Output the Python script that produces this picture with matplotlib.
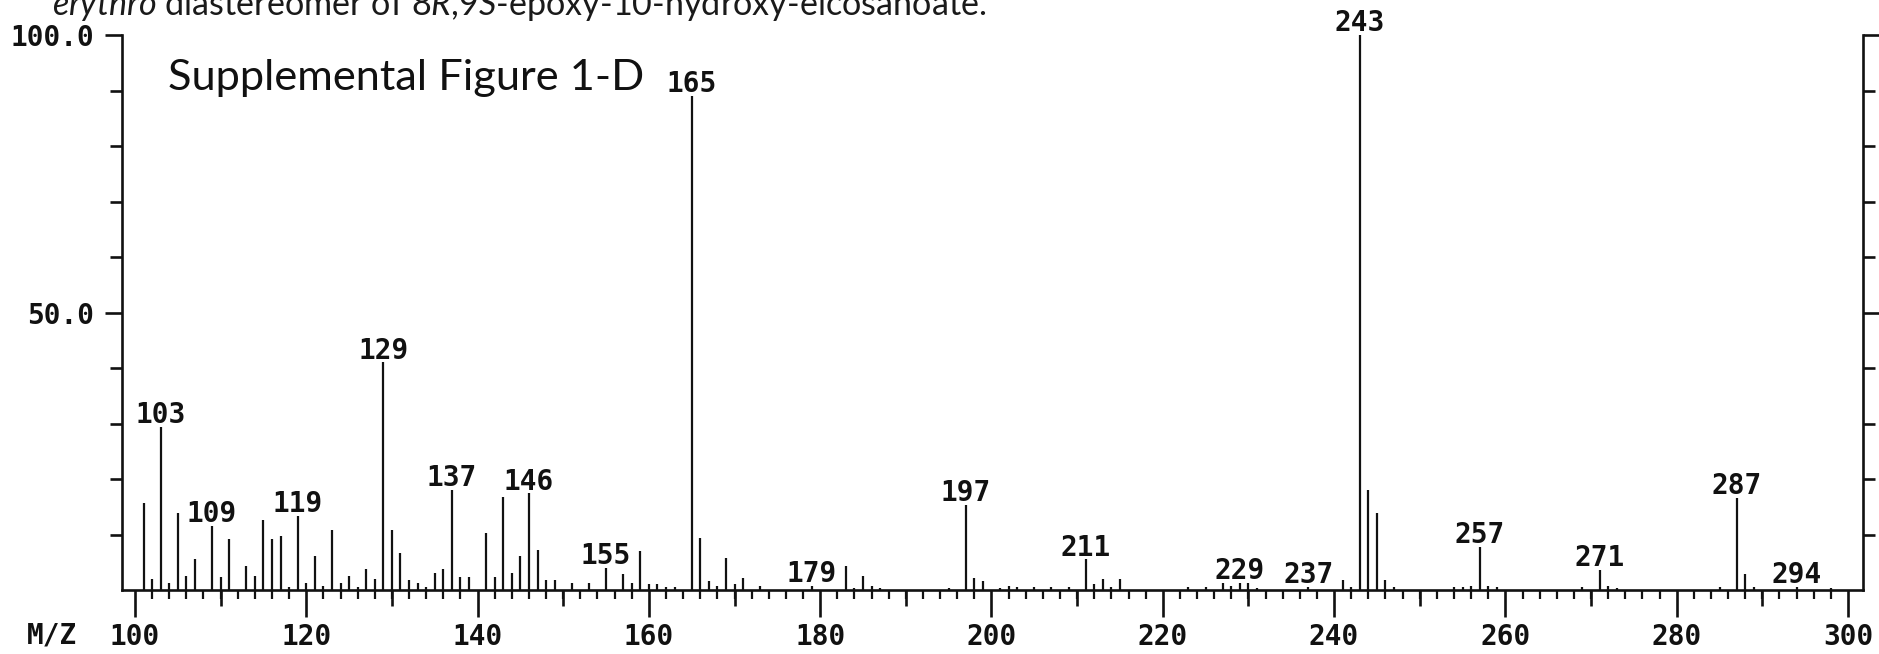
import matplotlib
matplotlib.use("Agg")
import matplotlib.pyplot as plt
from matplotlib.ticker import FixedLocator, NullFormatter

# mass spectrum (m/z, relative abundance %)
mz = [101, 102, 103, 104, 105, 106, 107, 109, 110, 111, 113, 114, 115, 116,
      117, 118, 119, 120, 121, 122, 123, 124, 125, 126, 127, 128, 129, 130,
      131, 132, 133, 134, 135, 136, 137, 138, 139, 141, 142, 143, 144, 145,
      146, 147, 148, 149, 151, 153, 155, 157, 158, 159, 160, 161, 162, 163,
      165, 166, 167, 168, 169, 170, 171, 173, 179, 183, 184, 185, 186, 187,
      195, 197, 198, 199, 201, 202, 203, 205, 207, 209, 211, 212, 213, 214,
      215, 223, 225, 227, 228, 229, 230, 231, 237, 241, 242, 243, 244, 245,
      246, 247, 254, 255, 256, 257, 258, 259, 269, 271, 272, 273, 285, 287,
      288, 289, 294, 298]
intensity = [15.7, 1.9, 29.4, 1.3, 13.9, 2.5, 5.5, 11.5, 2.4, 9.1, 4.3, 2.5,
             12.7, 9.1, 9.7, 0.6, 13.3, 1.2, 6.1, 0.7, 10.9, 1.3, 2.5, 0.6,
             3.8, 1.9, 41.0, 10.9, 6.7, 1.8, 1.2, 0.6, 3.1, 3.7, 18.0, 2.4,
             2.4, 10.3, 2.4, 16.8, 3.1, 6.1, 17.4, 7.2, 1.8, 1.8, 1.2, 1.2,
             4.0, 2.8, 1.2, 7.0, 1.0, 1.0, 0.6, 0.6, 89.0, 9.4, 1.6, 0.8, 5.8,
             1.0, 2.2, 0.8, 0.8, 4.3, 0.4, 2.6, 0.8, 0.4, 0.4, 15.4, 2.2, 1.6,
             0.4, 0.8, 0.6, 0.6, 0.6, 0.6, 5.5, 1.0, 2.0, 0.6, 1.9, 0.6, 0.6,
             1.3, 0.8, 1.3, 1.3, 0.3, 0.5, 1.8, 0.6, 100.0, 18.0, 13.9, 1.8,
             0.6, 0.6, 0.6, 0.8, 7.8, 0.8, 0.6, 0.6, 3.6, 0.8, 0.4, 0.6, 16.6,
             2.8, 0.6, 0.6, 0.3]

# peaks that carry a number on the printout
labelled = [103, 109, 119, 129, 137, 146, 155, 165, 179, 197, 211, 229, 237,
            243, 257, 271, 287, 294]

x_labels = [100, 120, 140, 160, 180, 200, 220, 240, 260, 280, 300]
y_labels = ["50.0", "100.0"]

INK = "#111111"
MONO = "DejaVu Sans Mono"
MSIZE = 20

plt.rcParams["mathtext.fontset"] = "custom"
plt.rcParams["mathtext.rm"] = "Lato"
plt.rcParams["mathtext.it"] = "Lato:italic"

W, H = 1879, 654
fig = plt.figure(figsize=(W / 100, H / 100), dpi=100)
fig.patch.set_facecolor("white")

left, right, top, base = 121.7, 1863, 35, 590
ax = fig.add_axes([left / W, 1 - base / H, (right - left) / W, (base - top) / H])

ax.vlines(mz, 0, intensity, color=INK, lw=1.6)
ax.set_xlim(98.45, 301.75)
ax.set_ylim(0, 100)

for s in ["left", "right", "bottom"]:
    ax.spines[s].set_linewidth(1.9)
    ax.spines[s].set_color(INK)
ax.spines["top"].set_visible(False)

# x: long ticks every 20 (labelled), medium every 10, short every 2
ax.xaxis.set_major_locator(FixedLocator(x_labels))
ax.set_xticklabels([str(v) for v in x_labels])
ax.xaxis.set_minor_locator(FixedLocator(list(range(100, 301, 2))))
ax.tick_params(axis="x", which="major", direction="out", length=19.5, width=1.9,
               color=INK, pad=4)
ax.tick_params(axis="x", which="minor", direction="out", length=6.5, width=1.6,
               color=INK)
sec = ax.secondary_xaxis(0)
sec.set_xticks(list(range(110, 300, 20)))
sec.xaxis.set_major_formatter(NullFormatter())
sec.tick_params(direction="out", length=11.5, width=1.9, color=INK)
sec.spines["bottom"].set_visible(False)

# y: ticks every 10 on both sides, labels at 50 and 100
ax.yaxis.set_major_locator(FixedLocator([50, 100]))
ax.set_yticklabels(y_labels)
ax.yaxis.set_minor_locator(FixedLocator([10, 20, 30, 40, 60, 70, 80, 90]))
ax.tick_params(axis="y", which="major", direction="out", length=12, width=1.9,
               color=INK, pad=8, left=True, right=True)
ax.tick_params(axis="y", which="minor", direction="out", length=8.6, width=1.9,
               color=INK, left=True, right=True)

for lab in ax.get_xticklabels() + ax.get_yticklabels():
    lab.set_fontfamily(MONO)
    lab.set_fontsize(MSIZE)
    lab.set_fontweight("bold")
    lab.set_color(INK)

for m, v in zip(mz, intensity):
    if m in labelled:
        ax.annotate(str(m), (m, v), xytext=(0, 2.8), textcoords="offset points",
                    ha="center", va="baseline", family=MONO, fontsize=MSIZE,
                    fontweight="bold", color=INK)

fig.text(27 / W, 1 - 635 / H, "M/Z", family=MONO, fontsize=MSIZE,
         fontweight="bold", color=INK, ha="left", va="center")

title = fig.text(168 / W, 1 - 90 / H, "Supplemental Figure 1-D", family="Lato",
                 fontsize=32, color=INK, ha="left", va="baseline")
# the printout's caption line, cut by the top edge as in the scan
caption = fig.text(52 / W, 1 - 15 / H,
                   r"$\mathit{erythro}$ diastereomer of 8$\mathit{R}$,9$\mathit{S}$"
                   "-epoxy-10-hydroxy-eicosanoate.",
                   family="Lato", fontsize=23, color="#1a1a1a", ha="left",
                   va="baseline")


def fit_width(txt, target):
    r = fig.canvas.get_renderer()
    w = txt.get_window_extent(renderer=r).width
    txt.set_fontsize(txt.get_fontsize() * target / w)


fit_width(title, 477)
fit_width(caption, 935)

fig.savefig("out.png", dpi=100, facecolor="white")
